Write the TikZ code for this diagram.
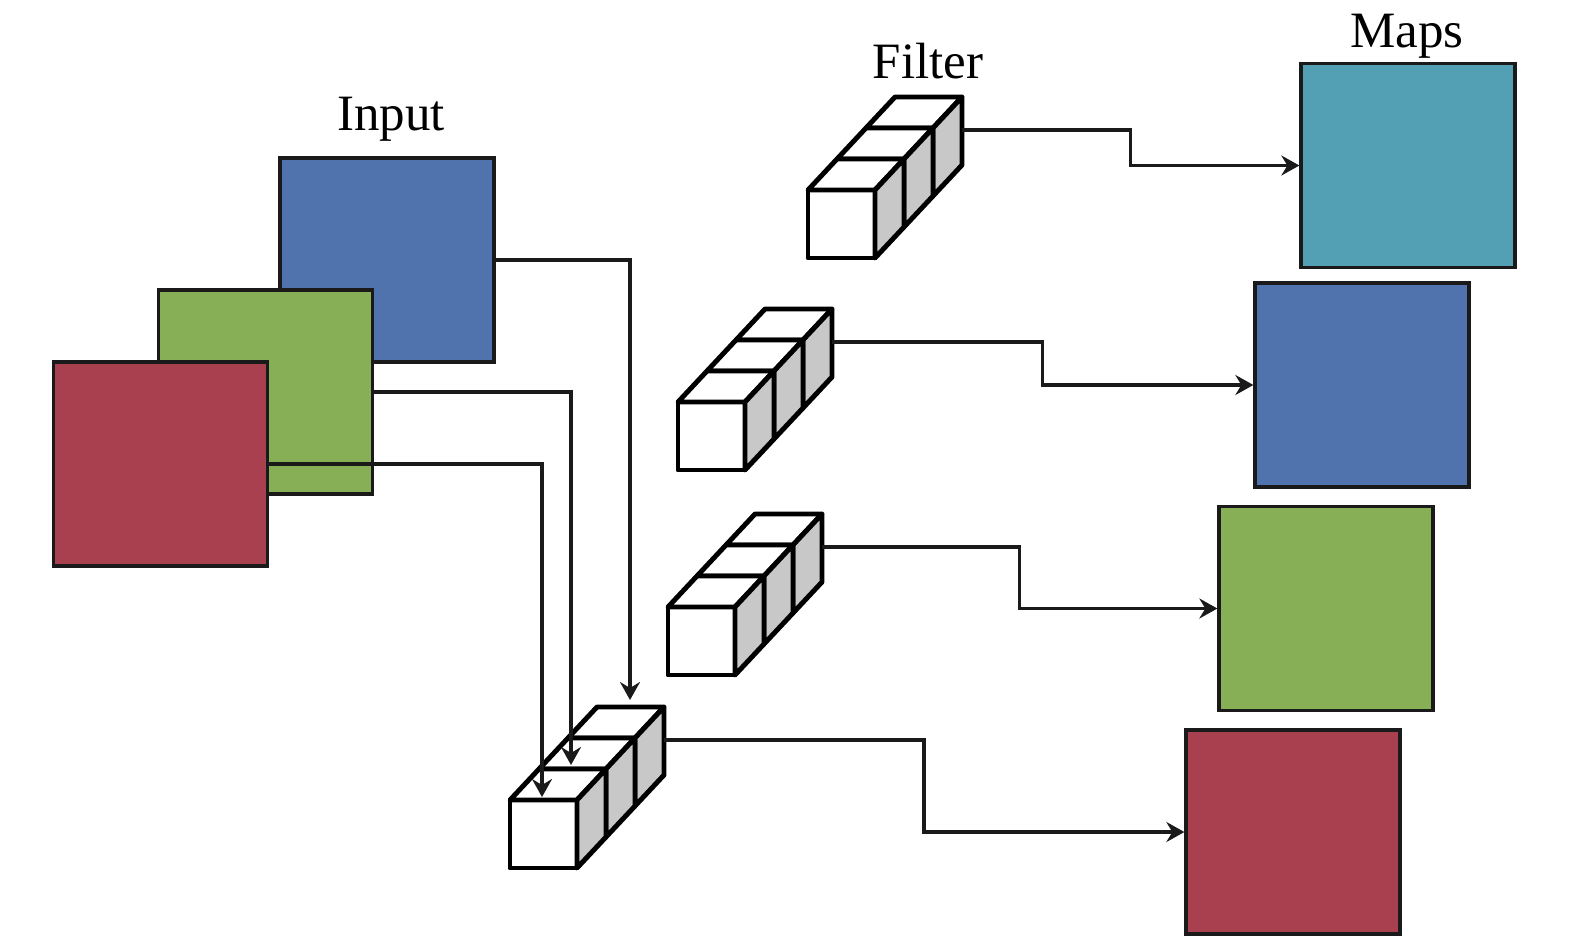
\documentclass[tikz,border=0pt]{standalone}
\usepackage{fontspec}
\setmainfont{Liberation Serif}
\usetikzlibrary{arrows.meta,positioning,calc}
\definecolor{cBlu}{HTML}{5073AE}
\definecolor{cGrn}{HTML}{87AF55}
\definecolor{cRed}{HTML}{A9404F}
\definecolor{cTel}{HTML}{539FB3}
\definecolor{cSide}{HTML}{C8C8C8}
\definecolor{cLine}{HTML}{1A1A1A}
\tikzset{
  sq/.style={draw=cLine,line width=1.9pt,minimum width=4.28cm,
             minimum height=4.08cm,inner sep=0pt},
  cube/.style={draw=black,line width=2.8pt,line join=round},
  link/.style={-{Stealth[length=3.6mm,width=4mm,inset=1.2mm]},
               line width=2pt,cLine},
  lbl/.style={font=\fontsize{29}{34}\selectfont,inner sep=0pt},
  filter/.pic={
    \foreach \k in {2,1,0}{
      \begin{scope}[shift={(29*\k,-31*\k)}]
        \filldraw[cube,fill=white] (0,0) rectangle (67,68);
        \filldraw[cube,fill=white] (0,0) -- (29,-31) -- (96,-31) -- (67,0) -- cycle;
        \filldraw[cube,fill=cSide] (67,0) -- (96,-31) -- (96,37) -- (67,68) -- cycle;
      \end{scope}
    }
    \coordinate (-out) at (154,-60);
    \coordinate (-in0) at (32,-3);
    \coordinate (-in1) at (61,-35);
    \coordinate (-in2) at (120,-100);
  },
}

\begin{document}
\begin{tikzpicture}[x=0.02cm,y=-0.02cm]
  \useasboundingbox (0,0) rectangle (1575,947);
  % input channels
  \node[sq,fill=cBlu] (inB) at (387,260) {};
  \node[sq,fill=cGrn] (inG) at (265.5,392) {};
  \node[sq,fill=cRed] (inR) at (160.5,464) {};
  % output maps
  \foreach \n/\x/\y/\c in {1/1408/165.5/cTel,2/1362/385/cBlu,
                           3/1326/608.5/cGrn,4/1293/832/cRed}
    \node[sq,fill=\c] (m\n) at (\x,\y) {};
  % filters
  \pic (f1) at (808,190) {filter};
  \pic (f2) at (678,402) {filter};
  \pic (f3) at (668,607) {filter};
  \pic (f4) at (510,800) {filter};
  % labels
  \node[lbl,anchor=base] (tIn) at (391,130) {Input};
  \node[lbl,anchor=base] (tFl) at (928,78) {Filter};
  \node[lbl,anchor=base] (tMp) at (1407,47) {Maps};
  % connectors
  \draw[link] (inB.east) -| (f4-in2);
  \draw[link] (inG.east) -| (f4-in1);
  \draw[link] (inR.east) -| (f4-in0);
  \foreach \n in {1,...,4}
    \draw[link] (f\n-out) -| ($(f\n-out)!.5!(m\n.west)$) |- (m\n.west);
\end{tikzpicture}
\end{document}
